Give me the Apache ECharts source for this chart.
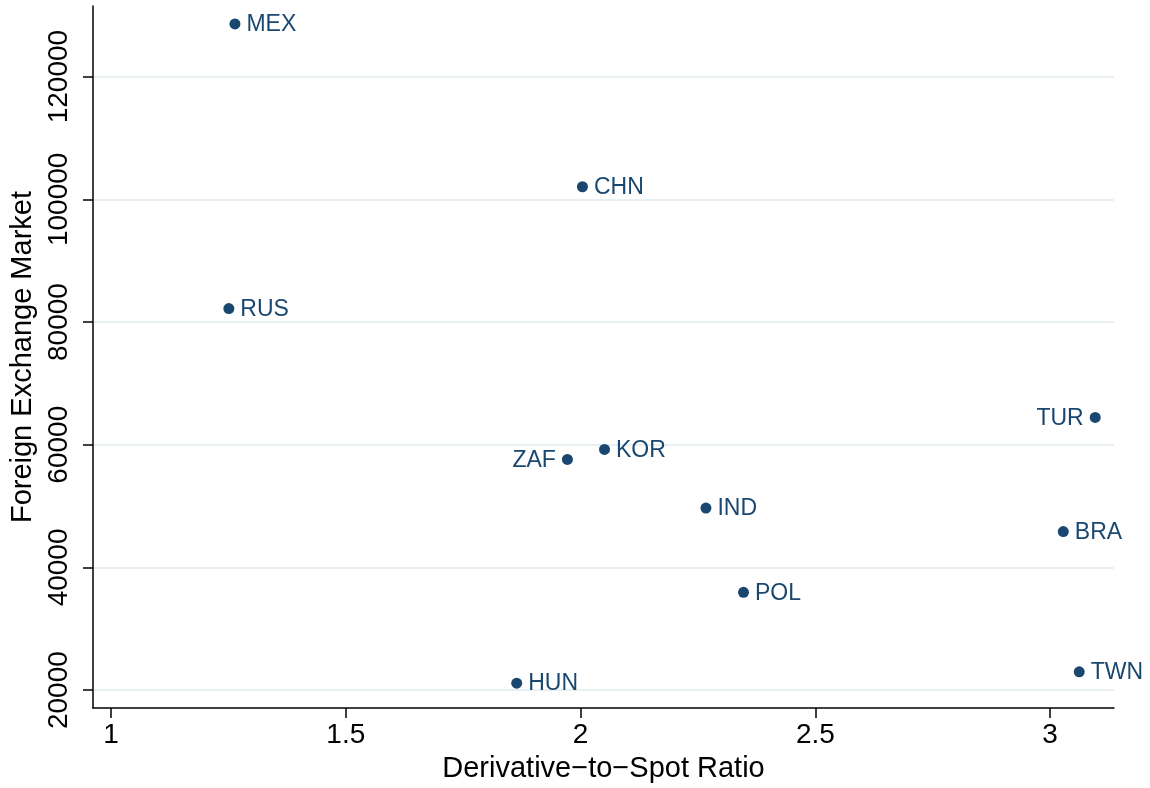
<!DOCTYPE html>
<html>
<head>
<meta charset="utf-8">
<script src="https://cdn.jsdelivr.net/npm/echarts@6/dist/echarts.min.js"></script>
<style>html,body{margin:0;padding:0;background:#fff;}#c{width:1150px;height:788px;}</style>
</head>
<body>
<div id="c"></div>
<script>
const countries = ['MEX','CHN','RUS','TUR','KOR','ZAF','IND','BRA','POL','TWN','HUN'];
const ratio = [1.264, 2.004, 1.251, 3.096, 2.051, 1.972, 2.267, 3.028, 2.347, 3.062, 1.864];
const fxMarket = [128580, 102050, 82190, 64440, 59240, 57610, 49680, 45840, 35950, 22980, 21140];
const leftLabeled = ['ZAF','TUR'];
const xTicks = [1, 1.5, 2, 2.5, 3];
const yTicks = [20000, 40000, 60000, 80000, 100000, 120000];

const navy = '#1a476f';
const font = '"Liberation Sans", Arial, Helvetica, sans-serif';

const data = countries.map((c, i) => ({
  name: c,
  value: [ratio[i], fxMarket[i]],
  label: { position: leftLabeled.includes(c) ? 'left' : 'right' }
}));

const chart = echarts.init(document.getElementById('c'), null, {renderer: 'canvas'});
chart.setOption({
  backgroundColor: '#ffffff',
  animation: false,
  grid: { left: 92, right: 36, top: 6, bottom: 79, containLabel: false },
  xAxis: {
    type: 'value',
    min: 0.9617, max: 3.136,
    name: 'Derivative\u2212to\u2212Spot Ratio',
    nameLocation: 'middle', nameGap: 45,
    nameTextStyle: { fontFamily: font, fontSize: 29, color: '#000' },
    axisLine: { show: true, onZero: false, lineStyle: { color: '#000', width: 1.5 } },
    axisTick: { show: true, length: 10, customValues: xTicks, lineStyle: { color: '#000', width: 1.5 } },
    axisLabel: { customValues: xTicks, fontFamily: font, fontSize: 28, color: '#000', margin: 13,
      formatter: v => String(v) },
    splitLine: { show: false }
  },
  yAxis: {
    type: 'value',
    min: 17070, max: 131510,
    name: 'Foreign Exchange Market',
    nameLocation: 'middle', nameGap: 56,
    nameTextStyle: { fontFamily: font, fontSize: 29, color: '#000' },
    axisLine: { show: true, onZero: false, lineStyle: { color: '#000', width: 1.5 } },
    axisTick: { show: true, length: 10, customValues: yTicks, lineStyle: { color: '#000', width: 1.5 } },
    axisLabel: { customValues: yTicks, rotate: 90, fontFamily: font, fontSize: 28, color: '#000', margin: 20,
      formatter: v => String(v) },
    splitLine: { show: true, lineStyle: { color: '#e8f0f2', width: 2 } }
  },
  series: [{
    type: 'scatter',
    symbol: 'circle',
    symbolSize: 11,
    itemStyle: { color: navy, opacity: 1 },
    label: {
      show: true,
      formatter: p => p.name,
      fontFamily: font, fontSize: 23, color: navy,
      distance: 6, offset: [0, 1]
    },
    data: data
  }]
});
</script>
</body>
</html>
